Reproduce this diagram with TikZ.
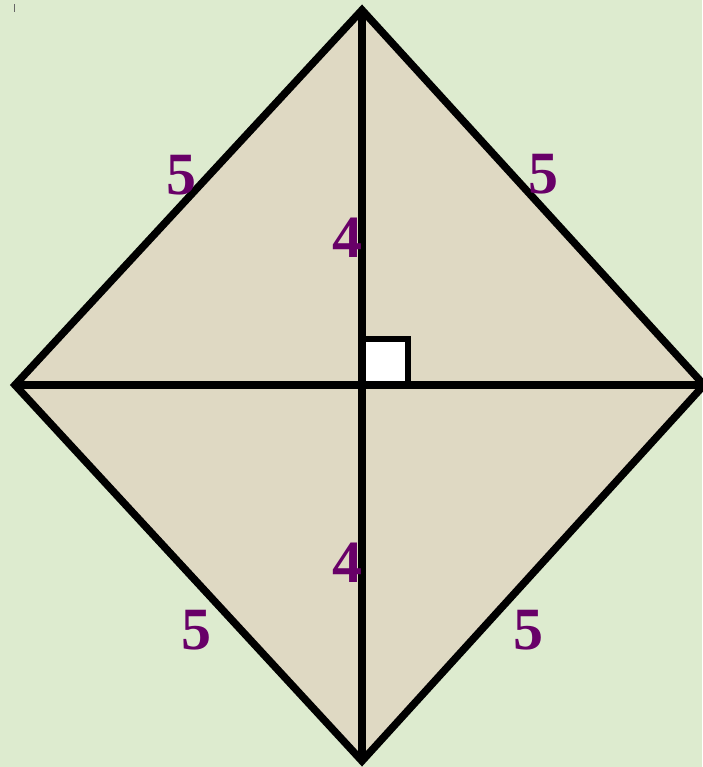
\documentclass[tikz,border=0pt]{standalone}
\usepackage{fontspec}
\setmainfont{Liberation Serif}
\usepackage{tikz}
\usetikzlibrary{positioning}
\definecolor{PaleGreen}{HTML}{DDEBCF}
\definecolor{Sand}{HTML}{DFD9C3}
\definecolor{DeepPurple}{HTML}{680068}
\tikzset{
  edge/.style={line width=7.5pt, line join=miter},
  lab/.style={text=DeepPurple, font=\fontsize{60}{60}\selectfont\bfseries, inner sep=0pt},
}

\begin{document}
\begin{tikzpicture}[x=1pt, y=-1pt]

% background
\fill[PaleGreen] (0,0) rectangle (702,767);
\useasboundingbox (0,0) rectangle (702,767);
\draw[black!60, line width=1.5pt] (14.5,4) -- (14.5,12);

% corners of the rhombus
\coordinate (T) at (362,10);
\coordinate (L) at (15,385);
\coordinate (R) at (704,385);
\coordinate (B) at (362,761);
\coordinate (O) at (362,385);

\def \sq {46}

% rhombus
\fill[Sand] (T) -- (R) -- (B) -- (L) -- cycle;

% right angle mark
\draw[line width=6.5pt, fill=white] (O) rectangle ++(\sq,-\sq);

% diagonals
\draw[edge] (T) -- (B);
\draw[edge] (L) -- (R);

% sides
\draw[edge] (T) -- (R) -- (B) -- (L) -- cycle;

% lengths
\node[lab] (sTL) at (181,175) {5};
\node[lab] (sTR) at (543,174) {5};
\node[lab] (sBL) at (196,630) {5};
\node[lab] (sBR) at (528,630) {5};
\node[lab] (dT) at (347,238) {4};
\node[lab] (dB) at (347,563) {4};

\end{tikzpicture}
\end{document}
